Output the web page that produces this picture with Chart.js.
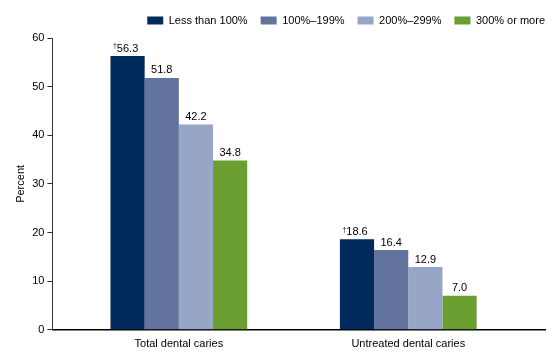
<!DOCTYPE html>
<html>
<head>
<meta charset="utf-8">
<script src="https://cdn.jsdelivr.net/npm/chart.js@4"></script>
<style>
  html, body { margin: 0; padding: 0; background: #fff; }
  #wrap { width: 560px; height: 359px; }
</style>
</head>
<body>
<div id="wrap"><canvas id="chart"></canvas></div>
<script>
// Categories and series (percent of children, by family income as % of poverty level)
const categories = ['Total dental caries', 'Untreated dental caries'];
const seriesNames = ['Less than 100%', '100%\u2013199%', '200%\u2013299%', '300% or more'];
const lessThan100 = [56.3, 18.6];
const from100to199 = [51.8, 16.4];
const from200to299 = [42.2, 12.9];
const over300 = [34.8, 7.0];
const yTicks = [0, 10, 20, 30, 40, 50, 60];
// values marked with a dagger in the source
const daggerSeries = [0];

const colors = ['#002a5c', '#62749e', '#97a5c6', '#6b9e31'];
const allSeries = [lessThan100, from100to199, from200to299, over300];

const FONT = 'Arial, "Liberation Sans", Helvetica, sans-serif';
Chart.defaults.font.family = FONT;
Chart.defaults.font.size = 11;
Chart.defaults.color = '#000';

// draws the value labels above each bar
const valueLabels = {
    id: 'valueLabels',
    afterDatasetsDraw(chart) {
        const ctx = chart.ctx;
        ctx.save();
        chart.data.datasets.forEach((ds, di) => {
            const meta = chart.getDatasetMeta(di);
            meta.data.forEach((bar, i) => {
                const txt = ds.data[i].y.toFixed(1);
                ctx.font = '11px ' + FONT;
                ctx.fillStyle = '#000';
                ctx.textAlign = 'center';
                ctx.textBaseline = 'bottom';
                const y = bar.y - 2;
                ctx.fillText(txt, bar.x, y);
                if (daggerSeries.includes(di)) {
                    const w = ctx.measureText(txt).width;
                    ctx.font = '7px ' + FONT;
                    ctx.textAlign = 'right';
                    ctx.fillText('\u2020', bar.x - w / 2, y - 4);
                }
            });
        });
        ctx.restore();
    }
};

// nudge the legend right (past its trailing padding) and slightly up
const legendShift = {
    id: 'legendShift',
    beforeDraw(chart) {
        if (chart.legend && !chart.legend._shifted) {
            chart.legend.left += 13;
            chart.legend.right += 13;
            chart.legend.top -= 2;
            chart.legend.bottom -= 2;
            chart.legend._shifted = true;
        }
    }
};

new Chart(document.getElementById('chart'), {
    type: 'bar',
    data: {
        datasets: allSeries.map((vals, s) => ({
            label: seriesNames[s],
            data: vals.map((v, i) => ({ x: i, y: v })),
            backgroundColor: colors[s],
            borderWidth: 0,
            categoryPercentage: 0.596,
            barPercentage: 1
        }))
    },
    options: {
        responsive: true,
        maintainAspectRatio: false,
        animation: false,
        layout: { padding: { left: 10, right: 15, top: 4, bottom: 0 } },
        plugins: {
            legend: {
                position: 'top',
                align: 'end',
                labels: {
                    boxWidth: 16,
                    boxHeight: 8,
                    padding: 13,
                    font: { size: 11 }
                }
            },
            tooltip: { enabled: false }
        },
        scales: {
            x: {
                type: 'linear',
                offset: false,
                min: -0.551,
                max: 1.596,
                grid: { display: false, drawTicks: false, offset: false },
                border: { display: true, color: '#000', width: 1.5 },
                afterBuildTicks(scale) {
                    scale.ticks = categories.map((c, i) => ({ value: i }));
                },
                ticks: {
                    padding: 8,
                    font: { size: 11 },
                    callback: (v) => categories[v]
                }
            },
            y: {
                min: 0,
                max: 60,
                afterBuildTicks(scale) {
                    scale.ticks = yTicks.map(v => ({ value: v }));
                },
                grid: { drawOnChartArea: false, drawTicks: true, tickLength: 5, color: '#333' },
                border: { display: true, color: '#333', width: 1 },
                ticks: { padding: 3, font: { size: 11 } },
                title: { display: true, text: 'Percent', font: { size: 11 }, padding: { bottom: 2 } }
            }
        }
    },
    plugins: [valueLabels, legendShift]
});
</script>
</body>
</html>
